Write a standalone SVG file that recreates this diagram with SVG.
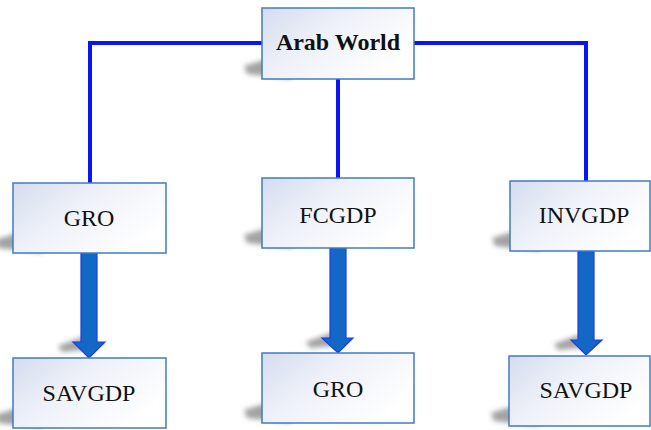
<svg xmlns="http://www.w3.org/2000/svg" width="651" height="430" viewBox="0 0 651 430">
<defs>
<linearGradient id="boxg" x1="0" y1="0" x2="1" y2="0.6">
<stop offset="0" stop-color="#d5dcee"/>
<stop offset="0.45" stop-color="#eef1f9"/>
<stop offset="1" stop-color="#ffffff"/>
</linearGradient>
<filter id="blur" x="-50%" y="-50%" width="200%" height="200%">
<feGaussianBlur stdDeviation="2.5"/>
</filter>
<path id="shadow" d="M30,-28 L-18,-13 L-15,-5 L30,0 Z"/>
</defs>
<style>
.box{fill:url(#boxg);stroke:#3f7cc4;stroke-width:1.5}
.sh{fill:#666;opacity:0.6;filter:url(#blur)}
.lbl{font-family:"Liberation Serif","Times New Roman",serif;font-size:24px;fill:#111;text-anchor:middle}
.line{stroke:#0a14f5;stroke-width:4;fill:none}
.arrow{fill:#1268c4;stroke:#1a3cf0;stroke-width:1.2}
</style>
<g id="connectors">
<path class="line" d="M262,43 H90 V184"/>
<path class="line" d="M414,43 H586 V181"/>
<path class="line" d="M338,79 V178"/>
<path class="sh" d="M85,336 L58,346 L62,352 L85,350 Z"/>
<path class="sh" d="M333,332 L306,342 L310,348 L333,346 Z"/>
<path class="sh" d="M581,334 L554,344 L558,350 L581,348 Z"/>
<path class="arrow" d="M81,253 H97 V342 H105 L89,358 L73,342 H81 Z"/>
<path class="arrow" d="M330,248 H346 V338 H353 L338,353 L322,338 H330 Z"/>
<path class="arrow" d="M578,251 H594 V340 H602 L586,355 L571,340 H578 Z"/>
</g>
<g id="arab-world">
<use href="#shadow" class="sh" transform="translate(262,79)"/>
<rect class="box" x="262" y="8" width="152" height="71"/>
<text class="lbl" x="338" y="50" font-weight="bold">Arab World</text>
</g>
<g id="gro-top">
<use href="#shadow" class="sh" transform="translate(13,253)"/>
<rect class="box" x="13" y="183" width="153" height="70"/>
<text class="lbl" x="89" y="226">GRO</text>
</g>
<g id="fcgdp">
<use href="#shadow" class="sh" transform="translate(262,248)"/>
<rect class="box" x="262" y="178" width="152" height="70"/>
<text class="lbl" x="338" y="223">FCGDP</text>
</g>
<g id="invgdp">
<use href="#shadow" class="sh" transform="translate(510,251)"/>
<rect class="box" x="510" y="181" width="140" height="70"/>
<text class="lbl" x="584" y="223">INVGDP</text>
</g>
<g id="savgdp-left">
<use href="#shadow" class="sh" transform="translate(13,428)"/>
<rect class="box" x="13" y="358" width="153" height="70"/>
<text class="lbl" x="89" y="401">SAVGDP</text>
</g>
<g id="gro-bottom">
<use href="#shadow" class="sh" transform="translate(262,423)"/>
<rect class="box" x="262" y="353" width="152" height="70"/>
<text class="lbl" x="338" y="397">GRO</text>
</g>
<g id="savgdp-right">
<use href="#shadow" class="sh" transform="translate(509,426)"/>
<rect class="box" x="509" y="356" width="141" height="70"/>
<text class="lbl" x="586" y="398">SAVGDP</text>
</g>
</svg>
